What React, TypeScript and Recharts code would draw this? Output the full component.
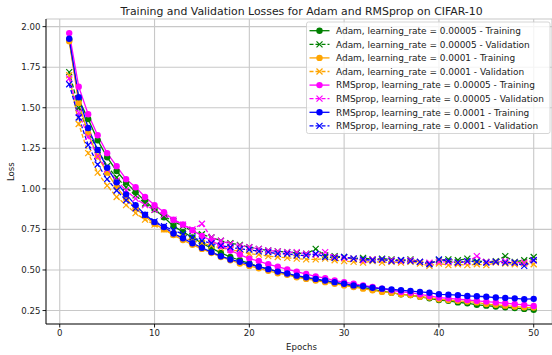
import React from 'react';
import { LineChart, Line, XAxis, YAxis, CartesianGrid } from 'recharts';

const epochs = [
  1, 2, 3, 4, 5, 6, 7, 8, 9, 10, 11, 12, 13, 14, 15, 16, 17, 18, 19, 20, 21, 22, 23, 24, 25,
  26, 27, 28, 29, 30, 31, 32, 33, 34, 35, 36, 37, 38, 39, 40, 41, 42, 43, 44, 45, 46, 47, 48, 49, 50,
];

const adam5Train = [
  1.92, 1.55, 1.43, 1.3, 1.195, 1.11, 1.04, 0.98, 0.925, 0.875, 0.825, 0.77, 0.735, 0.7, 0.665, 0.635, 0.605, 0.58, 0.56, 0.54,
  0.52, 0.505, 0.49, 0.475, 0.46, 0.45, 0.44, 0.43, 0.42, 0.41, 0.4, 0.39, 0.38, 0.37, 0.36, 0.35, 0.345, 0.335, 0.325, 0.315,
  0.31, 0.3, 0.295, 0.285, 0.28, 0.275, 0.27, 0.265, 0.26, 0.255,
];
const adam5Val = [
  1.72, 1.5, 1.35, 1.24, 1.14, 1.07, 1.01, 0.96, 0.91, 0.87, 0.83, 0.8, 0.77, 0.74, 0.72, 0.7, 0.68, 0.665, 0.655, 0.64,
  0.63, 0.62, 0.615, 0.61, 0.605, 0.6, 0.63, 0.59, 0.585, 0.58, 0.57, 0.575, 0.565, 0.57, 0.565, 0.56, 0.565, 0.55, 0.54, 0.56,
  0.565, 0.56, 0.57, 0.555, 0.55, 0.555, 0.585, 0.55, 0.56, 0.58,
];
const adam10Train = [
  1.91, 1.53, 1.34, 1.2, 1.1, 1.01, 0.94, 0.88, 0.83, 0.785, 0.75, 0.715, 0.685, 0.655, 0.63, 0.605, 0.58, 0.56, 0.54, 0.525,
  0.51, 0.495, 0.48, 0.47, 0.455, 0.445, 0.435, 0.425, 0.415, 0.405, 0.395, 0.385, 0.375, 0.365, 0.36, 0.35, 0.345, 0.335, 0.33, 0.32,
  0.315, 0.31, 0.305, 0.3, 0.29, 0.285, 0.28, 0.275, 0.27, 0.268,
];
const adam10Val = [
  1.7, 1.4, 1.22, 1.1, 1.02, 0.95, 0.9, 0.85, 0.81, 0.78, 0.75, 0.72, 0.7, 0.68, 0.665, 0.65, 0.635, 0.625, 0.615, 0.6,
  0.595, 0.585, 0.58, 0.575, 0.57, 0.565, 0.565, 0.57, 0.56, 0.555, 0.55, 0.545, 0.555, 0.545, 0.55, 0.545, 0.55, 0.54, 0.525, 0.54,
  0.53, 0.535, 0.53, 0.535, 0.53, 0.545, 0.54, 0.535, 0.54, 0.535,
];
const rms5Train = [
  1.96, 1.63, 1.46, 1.33, 1.22, 1.14, 1.06, 1.01, 0.95, 0.9, 0.856, 0.81, 0.78, 0.745, 0.71, 0.68, 0.65, 0.62, 0.595, 0.57,
  0.555, 0.535, 0.52, 0.503, 0.49, 0.475, 0.46, 0.45, 0.435, 0.425, 0.415, 0.405, 0.395, 0.385, 0.375, 0.365, 0.36, 0.35, 0.34, 0.33,
  0.325, 0.32, 0.315, 0.31, 0.305, 0.3, 0.295, 0.29, 0.285, 0.278,
];
const rms5Val = [
  1.68, 1.47, 1.32, 1.2, 1.12, 1.05, 0.99, 0.94, 0.9, 0.87, 0.84, 0.81, 0.78, 0.75, 0.785, 0.7, 0.68, 0.66, 0.65, 0.64,
  0.63, 0.62, 0.615, 0.61, 0.61, 0.6, 0.595, 0.61, 0.58, 0.575, 0.57, 0.56, 0.565, 0.565, 0.56, 0.555, 0.56, 0.55, 0.545, 0.55,
  0.55, 0.545, 0.55, 0.585, 0.55, 0.55, 0.555, 0.545, 0.545, 0.56,
];
const rms10Train = [
  1.925, 1.565, 1.375, 1.24, 1.13, 1.04, 0.966, 0.9, 0.84, 0.795, 0.765, 0.725, 0.695, 0.665, 0.637, 0.61, 0.585, 0.565, 0.55, 0.535,
  0.52, 0.505, 0.49, 0.478, 0.465, 0.455, 0.445, 0.435, 0.425, 0.415, 0.405, 0.4, 0.39, 0.385, 0.38, 0.375, 0.37, 0.365, 0.36, 0.35,
  0.348, 0.345, 0.34, 0.338, 0.335, 0.33, 0.328, 0.325, 0.32, 0.322,
];
const rms10Val = [
  1.645, 1.44, 1.27, 1.15, 1.06, 0.99, 0.93, 0.88, 0.84, 0.8, 0.77, 0.745, 0.72, 0.7, 0.68, 0.665, 0.65, 0.64, 0.63, 0.625,
  0.615, 0.61, 0.6, 0.6, 0.59, 0.59, 0.6, 0.58, 0.575, 0.58, 0.57, 0.565, 0.56, 0.565, 0.555, 0.56, 0.555, 0.55, 0.535, 0.565,
  0.555, 0.545, 0.555, 0.55, 0.545, 0.55, 0.545, 0.545, 0.525, 0.56,
];

const xTicks = [0, 10, 20, 30, 40, 50];
const yTicks = [0.25, 0.5, 0.75, 1.0, 1.25, 1.5, 1.75, 2.0];

const series = [
  { key: 'adam5Train', values: adam5Train, name: 'Adam, learning_rate = 0.00005 - Training', color: '#008000', val: false },
  { key: 'adam5Val', values: adam5Val, name: 'Adam, learning_rate = 0.00005 - Validation', color: '#008000', val: true },
  { key: 'adam10Train', values: adam10Train, name: 'Adam, learning_rate = 0.0001 - Training', color: '#ffa500', val: false },
  { key: 'adam10Val', values: adam10Val, name: 'Adam, learning_rate = 0.0001 - Validation', color: '#ffa500', val: true },
  { key: 'rms5Train', values: rms5Train, name: 'RMSprop, learning_rate = 0.00005 - Training', color: '#ff00ff', val: false },
  { key: 'rms5Val', values: rms5Val, name: 'RMSprop, learning_rate = 0.00005 - Validation', color: '#ff00ff', val: true },
  { key: 'rms10Train', values: rms10Train, name: 'RMSprop, learning_rate = 0.0001 - Training', color: '#0000ff', val: false },
  { key: 'rms10Val', values: rms10Val, name: 'RMSprop, learning_rate = 0.0001 - Validation', color: '#0000ff', val: true },
];

const data = epochs.map((epoch, i) => {
  const row: Record<string, number> = { epoch };
  series.forEach(s => {
    row[s.key] = s.values[i];
  });
  return row;
});

const FONT = '"DejaVu Sans", sans-serif';
const W = 552;
const H = 355;

const renderCross = (color: string) => (props: any) => {
  const { cx, cy, index } = props;
  if (cx == null || cy == null) return <g key={`n-${index}`} />;
  const s = 3;
  return (
    <g key={`x-${index}`}>
      <line x1={cx - s} y1={cy - s} x2={cx + s} y2={cy + s} stroke={color} strokeWidth={1.2} />
      <line x1={cx - s} y1={cy + s} x2={cx + s} y2={cy - s} stroke={color} strokeWidth={1.2} />
    </g>
  );
};

const LegendBox = () => {
  const left = 306.5;
  const top = 22;
  const rowH = 13.6;
  return (
    <g>
      <rect x={left} y={top} width={243.5} height={111.5} rx={2} fill="#ffffff" fillOpacity={0.8} stroke="#cccccc" strokeWidth={0.8} />
      {series.map((s, i) => {
        const cy = top + 8.7 + i * rowH;
        return (
          <g key={s.key}>
            <line x1={309.5} y1={cy} x2={329.5} y2={cy} stroke={s.color} strokeWidth={1.3} strokeDasharray={s.val ? '4 2' : undefined} />
            {s.val ? (
              <g>
                <line x1={316.5} y1={cy - 3} x2={322.5} y2={cy + 3} stroke={s.color} strokeWidth={1.2} />
                <line x1={316.5} y1={cy + 3} x2={322.5} y2={cy - 3} stroke={s.color} strokeWidth={1.2} />
              </g>
            ) : (
              <circle cx={319.5} cy={cy} r={3.2} fill={s.color} />
            )}
            <text x={336} y={cy + 3.3} fontSize={8.95} fontFamily={FONT} fill="#222">
              {s.name}
            </text>
          </g>
        );
      })}
    </g>
  );
};

export default function App() {
  return (
    <div style={{ position: 'absolute', left: 0, top: 0, width: W, height: H, background: '#fff', overflow: 'hidden' }}>
      <LineChart width={W} height={H} data={data} margin={{ top: 19, right: 0, left: 0, bottom: 0 }}>
        <CartesianGrid stroke="#c8c8c8" strokeWidth={1.1} />
        <XAxis
          dataKey="epoch"
          type="number"
          domain={[-1.45, 51.93]}
          ticks={xTicks}
          allowDataOverflow
          height={31}
          tickSize={3.5}
          tickMargin={2}
          axisLine={{ stroke: '#000', strokeWidth: 0.9 }}
          tickLine={{ stroke: '#000', strokeWidth: 0.9 }}
          tick={{ fontSize: 8.6, fontFamily: FONT, fill: '#222' }}
        />
        <XAxis
          xAxisId="top"
          orientation="top"
          dataKey="epoch"
          type="number"
          domain={[-1.45, 51.93]}
          height={0}
          tick={false}
          tickLine={false}
          axisLine={{ stroke: '#000', strokeWidth: 0.9 }}
        />
        <YAxis
          type="number"
          domain={[0.167, 2.047]}
          ticks={yTicks}
          allowDataOverflow
          width={46}
          tickSize={3.5}
          tickMargin={2}
          tickFormatter={(v: number) => v.toFixed(2)}
          axisLine={{ stroke: '#000', strokeWidth: 0.9 }}
          tickLine={{ stroke: '#000', strokeWidth: 0.9 }}
          tick={{ fontSize: 8.6, fontFamily: FONT, fill: '#222' }}
        />
        {series.map(s => (
          <Line
            key={s.key}
            dataKey={s.key}
            name={s.name}
            type="linear"
            stroke={s.color}
            strokeWidth={1.3}
            strokeDasharray={s.val ? '4 2' : undefined}
            dot={s.val ? renderCross(s.color) : { r: 3.2, fill: s.color, stroke: s.color, strokeWidth: 0 }}
            activeDot={false}
            isAnimationActive={false}
          />
        ))}
      </LineChart>
      <svg width={W} height={H} style={{ position: 'absolute', left: 0, top: 0, pointerEvents: 'none' }}>
        <text x={301.5} y={14.8} textAnchor="middle" fontSize={10.9} fontFamily={FONT} fill="#222">
          Training and Validation Losses for Adam and RMSprop on CIFAR-10
        </text>
        <text x={301.5} y={350} textAnchor="middle" fontSize={8.6} fontFamily={FONT} fill="#222">
          Epochs
        </text>
        <text x={14.5} y={171.6} textAnchor="middle" fontSize={8.6} fontFamily={FONT} fill="#222" transform="rotate(-90 14.5 171.6)">
          Loss
        </text>
        <LegendBox />
      </svg>
    </div>
  );
}
